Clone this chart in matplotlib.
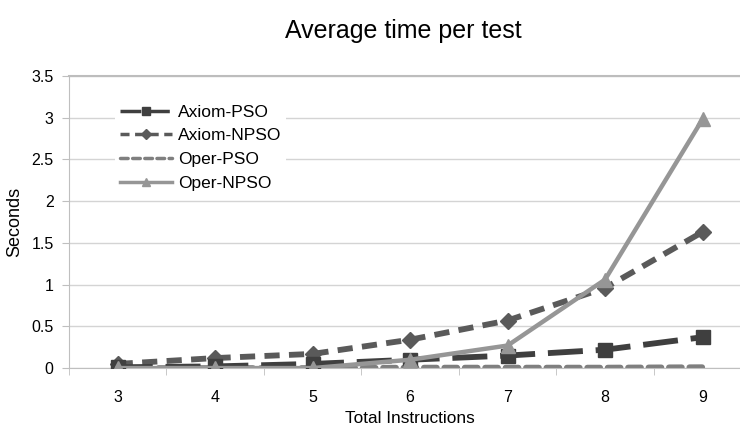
import matplotlib.pyplot as plt
from matplotlib.ticker import FixedLocator

plt.rcParams['font.family'] = ['Liberation Sans', 'DejaVu Sans']

instructions = [3, 4, 5, 6, 7, 8, 9]
axiom_pso = [0.01, 0.02, 0.05, 0.10, 0.15, 0.22, 0.37]
axiom_npso = [0.05, 0.12, 0.17, 0.34, 0.57, 0.96, 1.63]
oper_pso = [0.0, 0.0, 0.0, 0.005, 0.005, 0.005, 0.01]
oper_npso = [0.0, 0.0, 0.0, 0.10, 0.27, 1.06, 2.98]

fig = plt.figure(figsize=(7.4, 4.29), dpi=100)
ax = fig.add_axes([0.0932, 0.142, 0.922, 0.681])

ax.plot(instructions, axiom_pso, color='#3f3f3f', lw=4.2, dashes=(6, 2.2),
        marker='s', ms=10, label='Axiom-PSO', zorder=4)
ax.plot(instructions, axiom_npso, color='#5a5a5a', lw=4.2, dashes=(2.6, 1.6),
        marker='D', ms=8, label='Axiom-NPSO', zorder=3)
ax.plot(instructions, oper_pso, color='#7f7f7f', lw=4.2, dashes=(2.2, 1.3),
        label='Oper-PSO', zorder=2, dash_capstyle='round')
ax.plot(instructions, oper_npso, color='#969696', lw=3.2,
        marker='^', ms=10, label='Oper-NPSO', zorder=5)

ax.set_xlim(2.5, 9.5)
ax.set_ylim(0, 3.5)
ax.set_xticks(instructions)
ax.xaxis.set_minor_locator(FixedLocator([2.5 + i for i in range(8)]))
ax.set_yticks([0, 0.5, 1, 1.5, 2, 2.5, 3, 3.5])
ax.set_yticklabels(['0', '0.5', '1', '1.5', '2', '2.5', '3', '3.5'])
ax.tick_params(axis='x', which='major', length=0, labelsize=11.5, pad=16)
ax.tick_params(axis='x', which='minor', length=5, color='#bfbfbf')
ax.tick_params(axis='y', length=5, color='#bfbfbf', labelsize=11.5, pad=6)

ax.grid(axis='y', color='#d4d4d4', lw=1)
ax.set_axisbelow(True)
ax.spines['right'].set_visible(False)
ax.spines['top'].set_color('#bdbdbd')
ax.spines['top'].set_linewidth(1.5)
ax.spines['left'].set_color('#bfbfbf')
ax.spines['bottom'].set_color('#bfbfbf')

ax.set_xlabel('Total Instructions', fontsize=12.4, labelpad=4)
ax.set_ylabel('Seconds', fontsize=13, labelpad=6)
fig.text(0.545, 0.928, 'Average time per test', ha='center', va='center', fontsize=18)

leg = ax.legend(loc='upper left', bbox_to_anchor=(0.055, 0.95), frameon=True,
                fontsize=12.5, handlelength=3.0, labelspacing=0.5,
                borderpad=0.3, handletextpad=0.3, markerscale=0.6)
leg.get_frame().set_facecolor('white')
leg.get_frame().set_edgecolor('none')
leg.get_frame().set_alpha(1)
for line in leg.get_lines():
    line.set_linewidth(2.5)

fig.savefig('out.png', dpi=100)
